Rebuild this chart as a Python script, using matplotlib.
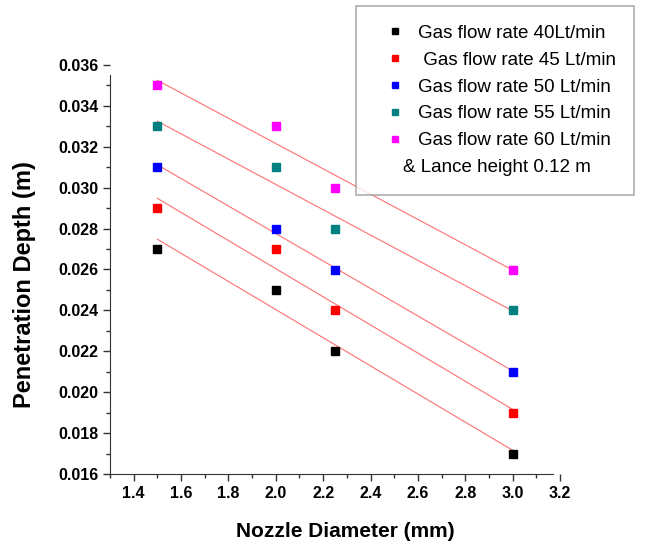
import matplotlib.pyplot as plt
import numpy as np
from matplotlib.lines import Line2D
from matplotlib.ticker import MultipleLocator
from matplotlib.transforms import ScaledTranslation

plt.rcParams['font.family'] = ['Liberation Sans', 'DejaVu Sans']

nozzle = [1.5, 2.0, 2.25, 3.0]
depth_40 = [0.027, 0.025, 0.022, 0.017]
depth_45 = [0.029, 0.027, 0.024, 0.019]
depth_50 = [0.031, 0.028, 0.026, 0.021]
depth_55 = [0.033, 0.031, 0.028, 0.024]
depth_60 = [0.035, 0.033, 0.030, 0.026]

labels = ["Gas flow rate 40Lt/min", " Gas flow rate 45 Lt/min",
          "Gas flow rate 50 Lt/min", "Gas flow rate 55 Lt/min",
          "Gas flow rate 60 Lt/min"]
colors = ["black", "#ff0000", "#0000ff", "#008080", "#ff00ff"]
series = [depth_40, depth_45, depth_50, depth_55, depth_60]

fig = plt.figure(figsize=(6.45, 5.43), dpi=100)
ax = fig.add_axes([110/645, 69/543, 450/645, 409/543])

x = np.array(nozzle)
handles = []
for ys, c, lab in zip(series, colors, labels):
    k, b = np.polyfit(x, ys, 1)
    ax.plot([x.min(), x.max()], [k*x.min()+b, k*x.max()+b], color="#ff7070", lw=0.8, zorder=1)
    ax.plot(x, ys, 's', color=c, ms=6, mec=c, zorder=2)
    handles.append(Line2D([], [], ls='', marker='s', color=c, ms=5))
handles.append(Line2D([], [], ls='', marker=None))
labels_all = labels + ["& Lance height 0.12 m"]

ax.set_xlim(1.3, 3.2)
ax.set_ylim(0.016, 0.036)
ax.xaxis.set_minor_locator(MultipleLocator(0.1))
ax.yaxis.set_major_locator(MultipleLocator(0.002))
ax.yaxis.set_minor_locator(MultipleLocator(0.001))
ax.set_xticks(np.arange(1.4, 3.21, 0.2))
ax.set_xticklabels([f"{v:.1f}" for v in np.arange(1.4, 3.21, 0.2)])
ax.yaxis.set_major_formatter(plt.FuncFormatter(lambda v, p: f"{v:.3f}"))

for s in ['top', 'right']:
    ax.spines[s].set_visible(False)
for s in ['left', 'bottom']:
    ax.spines[s].set_color('#333333')
ax.spines['left'].set_bounds(0.016, 0.0355)
ax.spines['bottom'].set_bounds(1.3, 3.17)
ax.tick_params(which='major', direction='out', length=5, width=1, color='#333333',
               labelsize=11.5)
ax.tick_params(which='minor', direction='out', length=3, width=1, color='#333333')
for t in ax.get_xticklabels() + ax.get_yticklabels():
    t.set_fontweight('bold')

ax.set_xlabel("Nozzle Diameter (mm)", fontsize=15, fontweight='bold')
ax.set_ylabel("Penetration Depth (m)", fontsize=17, fontweight='bold')
ax.xaxis.set_label_coords(0.522, -0.118)
ax.yaxis.set_label_coords(-0.165, 0.462)

leg = fig.legend(handles, labels_all, loc='upper left',
                 bbox_to_anchor=(356/645, 1 - 6/543), fontsize=13.5,
                 frameon=True, fancybox=False, edgecolor='#999999',
                 borderpad=1.0, labelspacing=0.52, handlelength=2.16,
                 handletextpad=0.12, borderaxespad=0)
leg.get_frame().set_linewidth(1.2)
last = leg.get_texts()[-1]
last.set_transform(last.get_transform() + ScaledTranslation(-0.15, 0, fig.dpi_scale_trans))

fig.savefig("out.png", dpi=100)
